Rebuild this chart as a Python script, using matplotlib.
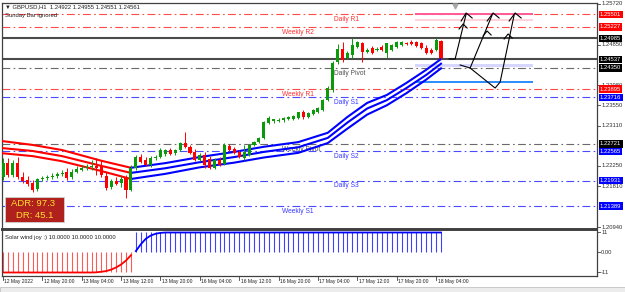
import matplotlib
matplotlib.use("Agg")
import matplotlib.pyplot as plt
import matplotlib.patches as patches
from matplotlib.transforms import blended_transform_factory

plt.rcParams['font.family'] = ['Liberation Sans', 'DejaVu Sans']

W, H = 625, 292

# --- GBPUSD H1 candles, 12 May 12:00 -> 18 May 05:00 ---
opens = [1.2201, 1.2231, 1.2206, 1.2231, 1.2201, 1.2195, 1.2188, 1.2176, 1.2197, 1.2199,
         1.2201, 1.2203, 1.2208, 1.2212, 1.2201, 1.2212, 1.2216, 1.2221, 1.2223, 1.2225,
         1.2225, 1.2203, 1.2180, 1.2193, 1.2188, 1.2199, 1.2173, 1.2221, 1.2244, 1.2238,
         1.2227, 1.2242, 1.2244, 1.2251, 1.2259, 1.2253, 1.2259, 1.2274, 1.2266, 1.2255,
         1.2238, 1.2248, 1.2240, 1.2221, 1.2238, 1.2229, 1.2268, 1.2261, 1.2255, 1.2242,
         1.2248, 1.2270, 1.2276, 1.2285, 1.2317, 1.2321, 1.2321, 1.2323, 1.2326, 1.2326,
         1.2328, 1.2340, 1.2330, 1.2336, 1.2340, 1.2345, 1.2366, 1.2388, 1.2448, 1.2476,
         1.2456, 1.2463, 1.2480, 1.2488, 1.2469, 1.2478, 1.2473, 1.2480, 1.2467, 1.2473,
         1.2480, 1.2484, 1.2488, 1.2491, 1.2491, 1.2488, 1.2478, 1.2473, 1.2473, 1.24922]
highs = [1.2242, 1.2242, 1.2238, 1.2244, 1.2212, 1.2203, 1.2195, 1.2199, 1.2203, 1.2206,
         1.2210, 1.2212, 1.2216, 1.2221, 1.2218, 1.2225, 1.2227, 1.2229, 1.2238, 1.2242,
         1.2238, 1.2212, 1.2197, 1.2201, 1.2203, 1.2206, 1.2227, 1.2248, 1.2251, 1.2244,
         1.2246, 1.2248, 1.2263, 1.2261, 1.2263, 1.2261, 1.2276, 1.2298, 1.2270, 1.2261,
         1.2253, 1.2255, 1.2246, 1.2242, 1.2244, 1.2274, 1.2272, 1.2266, 1.2259, 1.2270,
         1.2272, 1.2278, 1.2287, 1.2321, 1.2332, 1.2326, 1.2328, 1.2330, 1.2332, 1.2334,
         1.2341, 1.2345, 1.2340, 1.2347, 1.2351, 1.2368, 1.2396, 1.2450, 1.2486, 1.2491,
         1.2471, 1.2499, 1.2493, 1.2491, 1.2478, 1.2482, 1.2480, 1.2484, 1.2488, 1.2486,
         1.2493, 1.2493, 1.2491, 1.2495, 1.2493, 1.2491, 1.2484, 1.2478, 1.2499, 1.24955]
lows = [1.2195, 1.2201, 1.2201, 1.2197, 1.2188, 1.2182, 1.2169, 1.2171, 1.2193, 1.2195,
        1.2197, 1.2199, 1.2203, 1.2195, 1.2197, 1.2210, 1.2214, 1.2216, 1.2216, 1.2206,
        1.2201, 1.2173, 1.2176, 1.2184, 1.2180, 1.2156, 1.2171, 1.2216, 1.2231, 1.2225,
        1.2223, 1.2238, 1.2242, 1.2246, 1.2248, 1.2248, 1.2257, 1.2263, 1.2251, 1.2236,
        1.2236, 1.2221, 1.2218, 1.2218, 1.2225, 1.2227, 1.2257, 1.2251, 1.2242, 1.2238,
        1.2246, 1.2268, 1.2274, 1.2283, 1.2315, 1.2317, 1.2319, 1.2319, 1.2323, 1.2323,
        1.2326, 1.2326, 1.2328, 1.2334, 1.2338, 1.2343, 1.2364, 1.2383, 1.2443, 1.2448,
        1.2454, 1.2456, 1.2478, 1.2448, 1.2467, 1.2465, 1.2471, 1.2471, 1.2456, 1.2471,
        1.2478, 1.2482, 1.2484, 1.2484, 1.2480, 1.2476, 1.2465, 1.2465, 1.2471, 1.24551]
closes = [1.2231, 1.2206, 1.2231, 1.2201, 1.2193, 1.2186, 1.2173, 1.2197, 1.2199, 1.2201,
          1.2203, 1.2208, 1.2210, 1.2199, 1.2212, 1.2218, 1.2221, 1.2223, 1.2225, 1.2221,
          1.2206, 1.2178, 1.2193, 1.2186, 1.2197, 1.2173, 1.2221, 1.2244, 1.2233, 1.2227,
          1.2242, 1.2244, 1.2259, 1.2259, 1.2251, 1.2259, 1.2274, 1.2266, 1.2253, 1.2238,
          1.2248, 1.2227, 1.2221, 1.2238, 1.2227, 1.2270, 1.2259, 1.2253, 1.2244, 1.2255,
          1.2270, 1.2276, 1.2285, 1.2319, 1.2328, 1.2326, 1.2323, 1.2328, 1.2330, 1.2332,
          1.2340, 1.2330, 1.2338, 1.2345, 1.2349, 1.2366, 1.2392, 1.2446, 1.2476, 1.2452,
          1.2467, 1.2484, 1.2491, 1.2469, 1.2473, 1.2467, 1.2476, 1.2473, 1.2488, 1.2484,
          1.2491, 1.2491, 1.2486, 1.2486, 1.2482, 1.2478, 1.2467, 1.2467, 1.2495, 1.24561]

# --- moving-average envelope (read at a few bars) ---
band_bars = [0, 6, 12, 20, 26, 33, 40, 47, 53, 60, 66, 70, 74, 78, 82, 86, 89]
band_top = [1.2278, 1.2270, 1.2259, 1.2236, 1.2221, 1.2231, 1.2244, 1.2255, 1.2266,
            1.2276, 1.2296, 1.2330, 1.2360, 1.2377, 1.2403, 1.2431, 1.2454]
band_mid = [1.2263, 1.2257, 1.2246, 1.2225, 1.2210, 1.2220, 1.2233, 1.2244, 1.2255,
            1.2265, 1.2285, 1.2318, 1.2348, 1.2366, 1.2392, 1.2420, 1.2444]
band_bot = [1.2252, 1.2246, 1.2235, 1.2214, 1.2197, 1.2208, 1.2222, 1.2232, 1.2243,
            1.2253, 1.2274, 1.2305, 1.2335, 1.2355, 1.2381, 1.2410, 1.2434]
band_flip = 4  # index in band_bars where red turns blue

# --- pivot levels ---
level_names = ["Daily R1", "Weekly R2", "Daily Pivot", "Weekly R1", "Daily S1",
               "Weekly Pivot", "Daily S2", "Daily S3", "Weekly S1"]
level_values = [1.25501, 1.25227, 1.24350, 1.23895, 1.23716, 1.22721, 1.22565, 1.21931, 1.21389]
level_kind = ['r', 'r', 'p', 'r', 's', 'p', 's', 's', 's']
hlines_solid = [1.24985, 1.24537]

# --- right price scale ---
scale_ticks = [1.25720, 1.24850, 1.23980, 1.23550, 1.23110, 1.22250, 1.21810, 1.20940]
tag_values = [1.25501, 1.25227, 1.24985, 1.24537, 1.24350, 1.23895, 1.23716,
              1.22721, 1.22565, 1.21931, 1.21389]
tag_colors = ['#ff0000', '#ff0000', '#000000', '#000000', '#000000', '#ff0000', '#0000ff',
              '#000000', '#0000ff', '#0000ff', '#0000ff']

# --- time axis ---
time_ticks = [0, 8, 16, 24, 32, 40, 48, 56, 64, 72, 80, 88]
time_labels = ["12 May 2022", "12 May 20:00", "13 May 04:00", "13 May 12:00",
               "13 May 20:00", "16 May 04:00", "16 May 12:00", "16 May 20:00",
               "17 May 04:00", "17 May 12:00", "17 May 20:00", "18 May 04:00"]

# --- Solar wind joy indicator ---
sw_hist = [-11, -11, -11, -11, -11, -11, -11, -11, -11, -11, -11, -11, -11, -11, -11,
           -11, -11, -11, -11, -11, -11, -11, -11, -11, -11, -11, -11,
           11, 11, 11, 11, 11, 11, 11, 11, 11, 11, 11, 11, 11, 11, 11, 11, 11, 11, 11, 11,
           11, 11, 11, 11, 11, 11, 11, 11, 11, 11, 11, 11, 11, 11, 11, 11, 11, 11, 11, 11,
           11, 11, 11, 11, 11, 11, 11, 11, 11, 11, 11, 11, 11, 11, 11, 11, 11, 11, 11, 11,
           11, 11, 11]
sw_line = [-11, -11, -11, -11, -11, -11, -11, -11, -11, -11, -11, -11, -11, -11, -11,
           -11, -11, -11, -11, -10.9, -10.6, -10.2, -9.4, -8.2, -6.6, -4.4, -1.5,
           0.8, 4.5, 7.5, 9.3, 10.3, 10.8, 11, 11, 11, 11, 11, 11, 11, 11, 11, 11, 11,
           11, 11, 11, 11, 11, 11, 11, 11, 11, 11, 11, 11, 11, 11, 11, 11, 11, 11, 11, 11,
           11, 11, 11, 11, 11, 11, 11, 11, 11, 11, 11, 11, 11, 11, 11, 11, 11, 11, 11, 11,
           11, 11, 11, 11, 11, 11]

# --- user drawings (bar index, price) ---
zones = [(83.7, 107.7, 1.25484, 1.25537, '#ff5c9a'),
         (83.7, 107.7, 1.25355, 1.25398, '#ffd3dc'),
         (83.7, 107.7, 1.24372, 1.24434, '#d6d6ff'),
         (83.7, 107.7, 1.24027, 1.24066, '#2f8fff')]
sketch_x = [[90.65, 91.87, 94.11], [92.89, 94.92, 99.39], [94.92, 100.0, 101.02, 103.86],
            [93.09, 94.11, 95.33], [98.37, 99.59, 100.81], [102.85, 104.07, 105.28],
            [92.68, 93.50, 94.31], [97.56, 98.37, 99.19], [101.83, 102.64, 103.46]]
sketch_y = [[1.24541, 1.24541, 1.25505], [1.24412, 1.24348, 1.25484],
            [1.24348, 1.23919, 1.24048, 1.25484],
            [1.25355, 1.25527, 1.25420], [1.25355, 1.25527, 1.25420], [1.25355, 1.25527, 1.25420],
            [1.25184, 1.25291, 1.25205], [1.25034, 1.25141, 1.25055], [1.24970, 1.25077, 1.24991]]

GREEN = '#0a9a0a'
RED = '#ff0000'
FS = 4.2  # small chart font

fig = plt.figure(figsize=(W / 100, H / 100), dpi=100)
ax = fig.add_axes([2 / W, 1 - 229 / H, 595 / W, 226 / H])
ax2 = fig.add_axes([2 / W, 1 - 276 / H, 595 / W, 46 / H])

for a in (ax, ax2):
    a.set_xlim(-0.2, 120.7)
    a.set_xticks([])
    a.set_yticks([])
    for s in a.spines.values():
        s.set_color('#404040')
        s.set_linewidth(0.9)
ax.spines['bottom'].set_linewidth(1.4)
ax2.spines['top'].set_linewidth(1.4)
ax.set_ylim(1.20898, 1.25741)
ax2.set_ylim(-12.93, 12.375)

# pivot lines + labels
kind_col = {'r': '#ff4a4a', 's': '#4a4aff', 'p': '#6a6a6a'}
kind_txt = {'r': '#ff3030', 's': '#3a3aff', 'p': '#505050'}
for name, v, k in zip(level_names, level_values, level_kind):
    ax.axhline(v, color=kind_col[k], lw=0.8, dashes=(7, 3, 1.5, 3), zorder=1)
    xl = 67.3 if name.startswith("Daily") else 56.7
    ax.annotate(name, (xl, v), xytext=(0, -1.2), textcoords='offset points',
                fontsize=4.8, color=kind_txt[k], va='top', ha='left', zorder=1)
for v in hlines_solid:
    ax.axhline(v, color='#4a4a4a', lw=1.5, zorder=2)

# drawn zones
for x0, x1, y0, y1, c in zones:
    ax.add_patch(patches.Rectangle((x0, y0), x1 - x0, y1 - y0, facecolor=c,
                                   edgecolor='none', zorder=2))

# envelope
red_i = slice(0, band_flip + 1)
blue_i = slice(band_flip, len(band_bars))
for band in (band_top, band_mid, band_bot):
    ax.plot(band_bars[red_i], band[red_i], color='#ff0000', lw=1.5, zorder=3)
    ax.plot(band_bars[blue_i], band[blue_i], color='#0000ff', lw=1.5, zorder=3)

# candles
xs = list(range(len(closes)))
cols = [GREEN if c >= o else RED for o, c in zip(opens, closes)]
ax.vlines(xs, lows, highs, colors=cols, lw=0.7, zorder=4)
bottoms = [min(o, c) for o, c in zip(opens, closes)]
heights = [max(abs(c - o), 0.00005) for o, c in zip(opens, closes)]
ax.bar(xs, heights, bottom=bottoms, width=0.62, color=cols, linewidth=0, zorder=5)

# sketched arrows
for sx, sy in zip(sketch_x, sketch_y):
    ax.plot(sx, sy, color='black', lw=0.8, zorder=6)

# shift marker
ax.plot([91.9], [0.985], marker='v', color='#a8a8a8', ms=3.5,
        transform=blended_transform_factory(ax.transData, ax.transAxes), zorder=6)

# right price scale
tr = blended_transform_factory(ax.transAxes, ax.transData)
for v in scale_ticks:
    ax.plot([1.0, 1.005], [v, v], color='#404040', lw=0.6, transform=tr, clip_on=False)
    ax.text(1.007, v, f"{v:.5f}", transform=tr, fontsize=FS, color='#303030',
            va='center', ha='left', zorder=7)
for v, c in zip(tag_values, tag_colors):
    ax.text(1.005, v, f"{v:.5f}", transform=tr, fontsize=FS, color='white',
            va='center', ha='left', zorder=8,
            bbox=dict(boxstyle='square,pad=0.2', fc=c, ec='none'))

# ADR box
ax.add_patch(patches.Rectangle((3 / 595, 7 / 226), 59 / 595, 25 / 226, transform=ax.transAxes,
                               facecolor='#b0201c', edgecolor='#d0d0d0', lw=0.6, zorder=9))
ax.text(31 / 595, 26 / 226, "ADR: 97.3", transform=ax.transAxes, fontsize=6.8,
        color='#ffdd33', ha='center', va='center', zorder=10)
ax.text(33 / 595, 13 / 226, "DR: 45.1", transform=ax.transAxes, fontsize=6.8,
        color='#ffdd33', ha='center', va='center', zorder=10)

# header texts
fig.text(5 / W, 1 - 7 / H, "\u25bc GBPUSD,H1  1.24922 1.24955 1.24551 1.24561",
         fontsize=FS, color='#202020', va='center')
fig.text(5 / W, 1 - 16 / H, "Sunday Bar ignored", fontsize=FS, color='#202020', va='center')

# indicator
sw_cols = ['#0000ff' if h > 0 else '#ff2020' for h in sw_hist]
ax2.vlines(xs, 0, sw_hist, colors=sw_cols, lw=0.8, alpha=0.75)
ax2.plot(xs[:27], sw_line[:27], color='#ff0000', lw=1.3)
ax2.plot(xs[27:], sw_line[27:], color='#0000ff', lw=1.3)
fig.text(5 / W, 1 - 237 / H, "Solar wind joy :) 10.0000 10.0000 10.0000",
         fontsize=FS, color='#202020', va='center')
tr2 = blended_transform_factory(ax2.transAxes, ax2.transData)
for v, t in zip([11, 0, -11], ["11", "0.00", "-11"]):
    ax2.plot([1.0, 1.005], [v, v], color='#404040', lw=0.6, transform=tr2, clip_on=False)
    ax2.text(1.007, v, t, transform=tr2, fontsize=FS, color='#303030', va='center', ha='left')

# time axis
trt = blended_transform_factory(ax2.transData, ax2.transAxes)
for b, lab in zip(time_ticks, time_labels):
    ax2.plot([b, b], [0, -0.09], color='#404040', lw=0.6, transform=trt, clip_on=False)
    ax2.text(b + 0.3, -0.13, lab, transform=trt, fontsize=3.6, color='#202020',
             va='center', ha='left')

# bottom tab strip
fig.patches.append(patches.Rectangle((0, 0), 1, 5 / H, transform=fig.transFigure,
                                     facecolor='#ececec', edgecolor='#b8b8b8', lw=0.5))

fig.savefig("out.png", dpi=100)
